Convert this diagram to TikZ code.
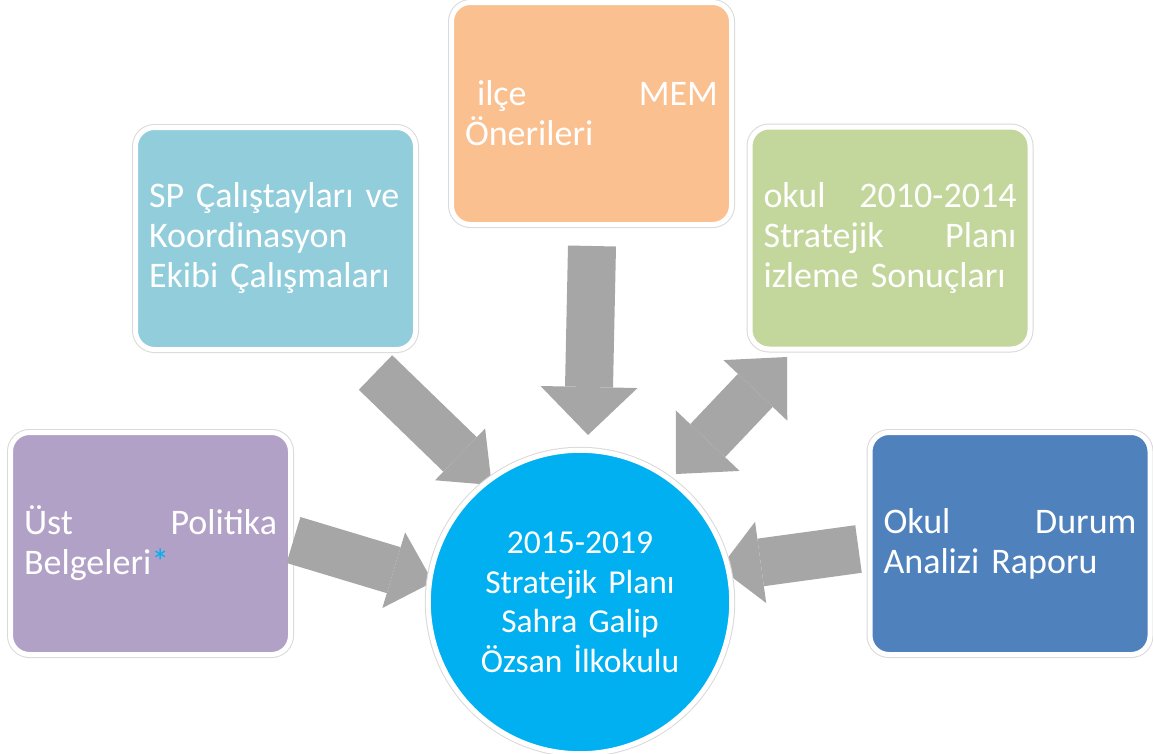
\documentclass[tikz,border=0pt]{standalone}
\usepackage{fontspec}
\setmainfont{Carlito}
\usetikzlibrary{arrows.meta}

\definecolor{morKutu}{HTML}{B2A1C7}
\definecolor{maviKutu}{HTML}{92CDDC}
\definecolor{turuncuKutu}{HTML}{FAC090}
\definecolor{yesilKutu}{HTML}{C3D69B}
\definecolor{laciKutu}{HTML}{4F81BD}
\definecolor{planMavi}{HTML}{00B0F0}
\definecolor{okGri}{HTML}{A6A6A6}
\definecolor{kenarGri}{HTML}{D9D9D9}

\tikzset{
  yazi/.style={text=white, font=\fontsize{33.5}{39.5}\selectfont},
  kutu/.style={text=white, font=\fontsize{36}{40}\selectfont,
    rectangle, rounded corners=19pt, fill=#1,
    draw=white, line width=5pt, preaction={draw=kenarGri, line width=7pt},
    minimum width=280pt, minimum height=222pt,
    text width=253pt, inner xsep=13.5pt, align=left},
  blok/.style={draw=okGri, line width=48pt},
}

\begin{document}
\begin{tikzpicture}[x=1pt,y=-1pt]
\path[use as bounding box, fill=white] (0,0) rectangle (1153,753);

% kutular
\node[kutu=morKutu] (ust) at (150.5,543.5) {\parindent=0pt Üst\hfill Politika\\Belgeleri\textcolor{planMavi}{*}};
\node[kutu=maviKutu] (sp) at (275.5,238.5) {\parindent=0pt SP Çalıştayları ve\\Koordinasyon\\Ekibi Çalışmaları};
\node[kutu=turuncuKutu] (mem) at (591.5,113.5) {\parindent=0pt \ ilçe\hfill MEM\\Önerileri};
\node[kutu=yesilKutu] (izleme) at (890,238) {\parindent=0pt okul\hfill 2010-2014\\Stratejik\hfill Planı\\izleme Sonuçları};
\node[kutu=laciKutu] (durum) at (1010,543.5) {\parindent=0pt Okul\hfill Durum\\Analizi Raporu};

% oklar
\coordinate (memA) at (592,246);     \coordinate (memB) at (588,435);
\coordinate (spA) at (375.5,372.5);  \coordinate (spB) at (491.7,485);
\coordinate (izA) at (676,474);      \coordinate (izB) at (787,357);
\coordinate (ustA) at (293.5,540);   \coordinate (ustB) at (433,582);
\coordinate (durA) at (858.5,549);   \coordinate (durB) at (720,568);

\draw[blok, -{Triangle[length=48pt,width=97pt,line width=0pt]}] (memA) -- (memB);
\draw[blok, -{Triangle[length=44pt,width=72pt,line width=0pt]}] (spA) -- (spB);
\draw[blok, {Triangle[length=46pt,width=88pt,line width=0pt]}-{Triangle[length=46pt,width=88pt,line width=0pt]}] (izA) -- (izB);
\draw[blok, -{Triangle[length=41pt,width=79pt,line width=0pt]}] (ustA) -- (ustB);
\draw[blok, -{Triangle[length=41pt,width=82pt,line width=0pt]}] (durA) -- (durB);

% ortadaki daire
\node[yazi, circle, fill=planMavi, draw=white, line width=5pt,
  preaction={draw=kenarGri, line width=7pt}, minimum size=295pt,
  text width=260pt, align=center] (plan) at (580,602)
  {2015-2019\\Stratejik Planı\\Sahra Galip\\Özsan İlkokulu};
\end{tikzpicture}
\end{document}
